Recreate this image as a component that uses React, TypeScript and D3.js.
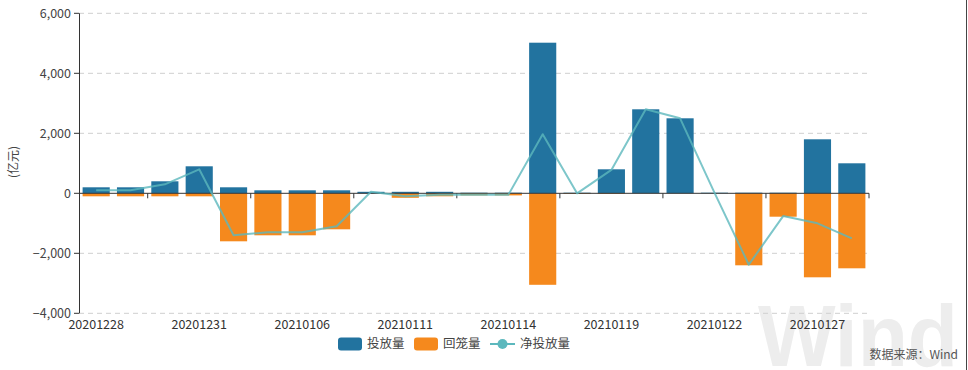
import { useEffect, useRef } from 'react'
import * as d3 from 'd3'

const dates = [
  '20201228', '20201229', '20201230', '20201231', '20210104', '20210105', '20210106', '20210107',
  '20210108', '20210111', '20210112', '20210113', '20210114', '20210115', '20210118', '20210119',
  '20210120', '20210121', '20210122', '20210125', '20210126', '20210127', '20210128',
]
// 投放量
const invest = [200, 200, 400, 900, 200, 100, 100, 100, 50, 50, 50, 20, 20, 5020, 20, 800, 2800, 2500, 20, 20, 20, 1800, 1000]
// 回笼量
const withdraw = [-100, -100, -100, -100, -1600, -1400, -1400, -1200, 0, -150, -100, -70, -70, -3050, -20, -20, 0, 0, 0, -2400, -780, -2800, -2500]
// 净投放量
const net = [100, 100, 300, 800, -1400, -1300, -1300, -1100, 50, -100, -50, -50, -50, 1970, 0, 780, 2800, 2500, 20, -2380, -760, -1000, -1500]
const yTicks = [-4000, -2000, 0, 2000, 4000, 6000]
const labelEvery = 3

const W = 968
const H = 370
const BLUE = '#22739f'
const ORANGE = '#f5891d'
const TEAL = '#5cb8bd'
const FONT = '"Microsoft YaHei", "Noto Sans CJK SC", sans-serif'

export default function App() {
  const svgRef = useRef<SVGSVGElement>(null)

  useEffect(() => {
    if (!svgRef.current) return
    const svg = d3.select(svgRef.current)
    svg.selectAll('*').remove()

    const left = 79
    const right = 869
    const x = d3.scaleBand<string>().domain(dates).range([left, right]).padding(0)
    const y = d3.scaleLinear().domain([-4000, 6000]).range([313.3, 13.3])
    const bw = x.bandwidth()
    const barW = bw * 0.79
    const cx = (d: string) => (x(d) as number) + bw / 2

    // watermark
    svg.append('text').attr('x', 758).attr('y', 366).attr('fill', '#ededed').attr('font-family', 'Arial, "Liberation Sans", sans-serif')
      .attr('font-weight', 700).attr('font-size', '88px').attr('textLength', 200).attr('lengthAdjust', 'spacingAndGlyphs').text('Wind')
    svg.append('line').attr('x1', 966.5).attr('x2', 966.5).attr('y1', 0).attr('y2', H).attr('stroke', '#444').attr('stroke-width', 1)

    // grid
    yTicks.filter((t) => t !== 0).forEach((t) => {
      svg.append('line').attr('x1', left).attr('x2', right).attr('y1', y(t)).attr('y2', y(t))
        .attr('stroke', '#cfcfcf').attr('stroke-dasharray', '5,4').attr('stroke-width', 1)
    })

    // y axis
    svg.append('line').attr('x1', left + 0.5).attr('x2', left + 0.5).attr('y1', y(6000)).attr('y2', y(-4000)).attr('stroke', '#333')
    yTicks.forEach((t) => {
      svg.append('line').attr('x1', left - 5).attr('x2', left).attr('y1', y(t)).attr('y2', y(t)).attr('stroke', '#333')
      svg.append('text').attr('x', left - 8).attr('y', y(t)).attr('dy', '0.35em').attr('text-anchor', 'end')
        .attr('fill', '#444').attr('font-family', FONT).attr('font-size', '12.5px').text(d3.format(',')(t))
    })
    svg.append('text').attr('transform', `translate(18,${162}) rotate(-90)`).attr('text-anchor', 'middle')
      .attr('fill', '#444').attr('font-family', FONT).attr('font-size', '12px').text('(亿元)')

    // bars
    svg.append('g').selectAll('rect.inv').data(dates).join('rect')
      .attr('x', (d) => cx(d) - barW / 2).attr('width', barW)
      .attr('y', (_, i) => y(Math.max(0, invest[i]))).attr('height', (_, i) => Math.abs(y(invest[i]) - y(0)))
      .attr('fill', BLUE)
    svg.append('g').selectAll('rect.wd').data(dates).join('rect')
      .attr('x', (d) => cx(d) - barW / 2).attr('width', barW)
      .attr('y', y(0)).attr('height', (_, i) => Math.abs(y(withdraw[i]) - y(0)))
      .attr('fill', ORANGE)

    // x axis: ticks on band boundaries, labels every 3rd category
    svg.append('line').attr('x1', left).attr('x2', right).attr('y1', y(0)).attr('y2', y(0)).attr('stroke', '#333')
    for (let k = 2; k <= dates.length; k += labelEvery) {
      const tx = left + k * bw
      svg.append('line').attr('x1', tx).attr('x2', tx).attr('y1', y(0)).attr('y2', y(0) + 5).attr('stroke', '#333')
    }
    dates.forEach((d, i) => {
      if (i % labelEvery !== 0) return
      svg.append('text').attr('x', cx(d)).attr('y', 325).attr('dy', '0.35em').attr('text-anchor', 'middle')
        .attr('fill', '#333').attr('font-family', FONT).attr('font-size', '12.5px').text(d)
    })

    // net line
    const line = d3.line<number>().x((_, i) => cx(dates[i])).y((v) => y(v))
    svg.append('path').datum(net).attr('d', line).attr('fill', 'none').attr('stroke', TEAL)
      .attr('stroke-width', 2).attr('stroke-opacity', 0.8).attr('stroke-linejoin', 'round')

    // legend
    const ly = 344
    const lg = svg.append('g').attr('font-family', FONT).attr('font-size', '12.5px').attr('fill', '#444')
    lg.append('rect').attr('x', 338).attr('y', ly - 6.5).attr('width', 24).attr('height', 13).attr('rx', 3).attr('fill', BLUE)
    lg.append('text').attr('x', 367).attr('y', ly).attr('dy', '0.35em').text('投放量')
    lg.append('rect').attr('x', 414).attr('y', ly - 6.5).attr('width', 24).attr('height', 13).attr('rx', 3).attr('fill', ORANGE)
    lg.append('text').attr('x', 443).attr('y', ly).attr('dy', '0.35em').text('回笼量')
    lg.append('line').attr('x1', 490).attr('x2', 515).attr('y1', ly).attr('y2', ly).attr('stroke', TEAL).attr('stroke-width', 2)
    lg.append('circle').attr('cx', 502.5).attr('cy', ly).attr('r', 5).attr('fill', TEAL)
    lg.append('text').attr('x', 520).attr('y', ly).attr('dy', '0.35em').text('净投放量')

    svg.append('text').attr('x', 958).attr('y', 355).attr('dy', '0.35em').attr('text-anchor', 'end')
      .attr('fill', '#555').attr('font-family', FONT).attr('font-size', '12px').text('数据来源：Wind')
  }, [])

  return (
    <svg ref={svgRef} width={W} height={H} style={{ position: 'absolute', left: 0, top: 0, background: '#fff' }} />
  )
}
